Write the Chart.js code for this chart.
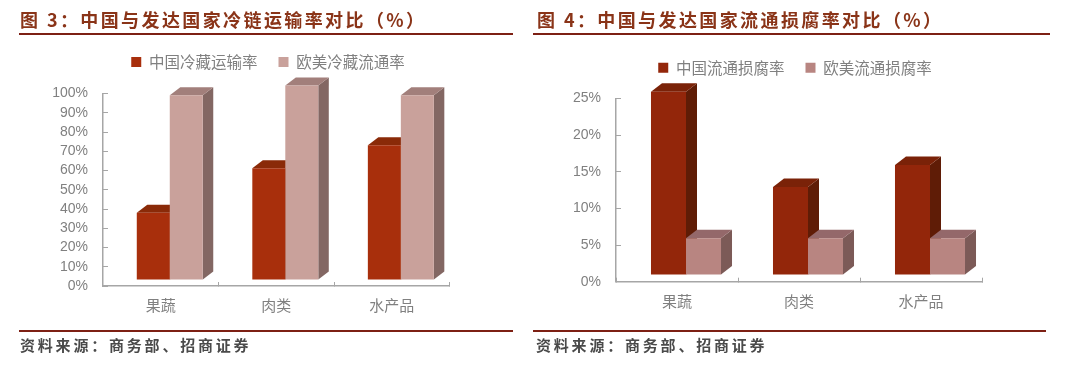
<!DOCTYPE html>
<html>
<head>
<meta charset="utf-8">
<script src="https://cdn.jsdelivr.net/npm/chart.js@4"></script>
<style>
html,body{margin:0;padding:0;background:#fff;}
#page{position:relative;width:1080px;height:372px;overflow:hidden;filter:blur(0.5px);font-family:"Noto Sans CJK SC",sans-serif;}
canvas{position:absolute;top:0;}
.title{position:absolute;top:7px;height:24px;line-height:24px;font-size:18px;font-weight:700;letter-spacing:2.4px;color:#8a3418;white-space:pre;}
.rule{position:absolute;height:2px;background:#7d2014;}
.src{position:absolute;top:334px;height:22px;line-height:22px;font-size:15px;font-weight:700;letter-spacing:2.8px;color:#4a4a4a;white-space:pre;}
</style>
</head>
<body>
<div id="page">
  <div class="title" id="t1" style="left:20px"></div>
  <div class="rule" style="left:19px;width:494px;top:33px"></div>
  <div class="title" id="t2" style="left:537px"></div>
  <div class="rule" style="left:533px;width:517px;top:33px"></div>
  <div class="rule" style="left:19px;width:494px;top:330px"></div>
  <div class="rule" style="left:533px;width:513px;top:330px"></div>
  <div class="src" id="s1" style="left:20px"></div>
  <div class="src" id="s2" style="left:536px"></div>
  <canvas id="c1" width="536" height="330" style="left:0;width:536px;height:330px"></canvas>
  <canvas id="c2" width="510" height="330" style="left:540px;width:510px;height:330px"></canvas>
</div>
<script>
const titleLeft = "图 3：中国与发达国家冷链运输率对比（%）";
const titleRight = "图 4：中国与发达国家流通损腐率对比（%）";
const sourceText = "资料来源：商务部、招商证券";

const categories = ["果蔬", "肉类", "水产品"];

const seriesNamesLeft = ["中国冷藏运输率", "欧美冷藏流通率"];
const chinaTransport = [35, 58, 70];
const westTransport = [96, 101, 96];

const seriesNamesRight = ["中国流通损腐率", "欧美流通损腐率"];
const chinaLoss = [25, 12, 15];
const westLoss = [5, 5, 5];

document.getElementById('t1').textContent = titleLeft;
document.getElementById('t2').textContent = titleRight;
document.getElementById('s1').textContent = sourceText;
document.getElementById('s2').textContent = sourceText;

const depth3d = {
  id: 'depth3d',
  afterLayout(chart, args, o) {
    const lg = chart.legend;
    lg.top = o.legendCenter - 7.75 - chart.options.plugins.legend.labels.padding;
    lg.left = 0;
    lg.right = chart.width;
  },
  beforeDatasetsDraw(chart, args, o) {
    const ctx = chart.ctx;
    ctx.save();
    ctx.translate(o.shiftX, o.shiftY);
    chart.data.datasets.forEach((ds, di) => {
      chart.getDatasetMeta(di).data.forEach(bar => {
        const p = bar.getProps(['x', 'y', 'base', 'width'], true);
        const l = p.x - p.width / 2, r = p.x + p.width / 2;
        ctx.fillStyle = o.side[di];
        ctx.beginPath();
        ctx.moveTo(r, p.y); ctx.lineTo(r + o.dx, p.y - o.dy);
        ctx.lineTo(r + o.dx, p.base - o.dy); ctx.lineTo(r, p.base);
        ctx.closePath(); ctx.fill();
        ctx.fillStyle = o.top[di];
        ctx.beginPath();
        ctx.moveTo(l, p.y); ctx.lineTo(l + o.dx, p.y - o.dy);
        ctx.lineTo(r + o.dx, p.y - o.dy); ctx.lineTo(r, p.y);
        ctx.closePath(); ctx.fill();
      });
    });
  },
  afterDatasetsDraw(chart) { chart.ctx.restore(); }
};

function makeChart(id, names, values, cfg) {
  return new Chart(document.getElementById(id), {
    type: 'bar',
    data: {
      labels: categories,
      datasets: names.map((n, i) => ({
        label: n,
        data: values[i],
        backgroundColor: cfg.front[i],
        clip: false,
        barPercentage: 1,
        categoryPercentage: cfg.groupShare
      }))
    },
    options: {
      responsive: false,
      animation: false,
      layout: { padding: { top: cfg.padTop, right: cfg.padRight, bottom: 0, left: 0 } },
      plugins: {
        tooltip: { enabled: false },
        title: { display: false },
        legend: {
          position: 'top',
          labels: {
            boxWidth: 10, boxHeight: 10, padding: 21,
            color: '#808080',
            font: { family: '"Noto Sans CJK SC"', size: 15.5 }
          }
        },
        depth3d: {
          dx: cfg.dx, dy: cfg.dy, shiftX: cfg.shiftX, shiftY: cfg.shiftY,
          top: cfg.top, side: cfg.side, legendCenter: cfg.legendCenter
        }
      },
      scales: {
        x: {
          afterFit(s) { s.height = cfg.xHeight; },
          border: { color: '#a6a6a6', width: 1.5 },
          grid: { drawOnChartArea: false, tickLength: -4, color: '#a6a6a6', lineWidth: 1 },
          ticks: { padding: cfg.xPad, color: '#808080', maxRotation: 0,
                   font: { family: '"Noto Sans CJK SC"', size: 15 } }
        },
        y: {
          min: 0, max: cfg.max,
          afterFit(s) { s.width = cfg.yWidth; },
          border: { color: '#a6a6a6', width: 1.5 },
          grid: { drawOnChartArea: false, tickLength: -5, color: '#a6a6a6', lineWidth: 1 },
          ticks: { stepSize: cfg.step, padding: 20, color: '#808080', autoSkip: false,
                   font: { family: '"Liberation Sans"', size: 14 },
                   callback: v => v + '%' }
        }
      }
    },
    plugins: [depth3d]
  });
}

makeChart('c1', seriesNamesLeft, [chinaTransport, westTransport], {
  max: 100, step: 10, groupShare: 0.571,
  front: ['#a82f0c', '#c9a19b'], top: ['#8a2a08', '#a27f7b'], side: ['#6e2208', '#836763'],
  dx: 10.5, dy: 8, shiftX: 9, shiftY: -6,
  padTop: 47, padRight: 86.4, xHeight: 44, yWidth: 103, xPad: 14, legendCenter: 62
});
makeChart('c2', seriesNamesRight, [chinaLoss, westLoss], {
  max: 25, step: 5, groupShare: 0.574,
  front: ['#93260a', '#b88581'], top: ['#7a2208', '#94686a'], side: ['#5f1c06', '#7c5a57'],
  dx: 11, dy: 8.5, shiftX: 9, shiftY: -6.7,
  padTop: 52, padRight: 68, xHeight: 48.3, yWidth: 76, xPad: 15, legendCenter: 67.7
});
</script>
</body>
</html>
